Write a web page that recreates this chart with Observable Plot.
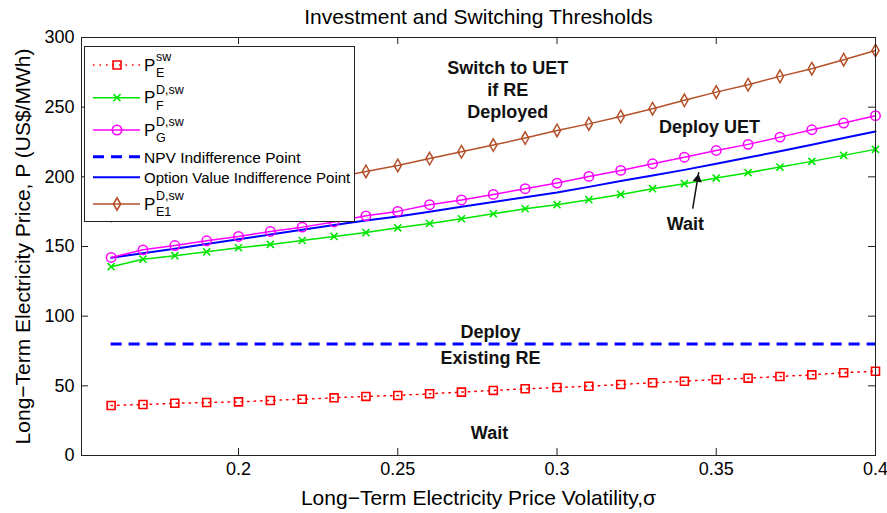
<!DOCTYPE html>
<html><head><meta charset="utf-8">
<script src="https://cdn.jsdelivr.net/npm/d3@7"></script>
<script src="https://cdn.jsdelivr.net/npm/@observablehq/plot@0.6"></script>
<style>
body{margin:0;background:#fff;}
#wrap{position:relative;width:887px;height:513px;font-family:"Liberation Sans",Arial,Helvetica,sans-serif;}
#legend{position:absolute;left:84px;top:46px;}
</style></head><body><div id="wrap"></div>
<script>
// ---- data ----
const sigma = [0.16,0.17,0.18,0.19,0.20,0.21,0.22,0.23,0.24,0.25,0.26,0.27,0.28,0.29,0.30,0.31,0.32,0.33,0.34,0.35,0.36,0.37,0.38,0.39,0.40];
const pE   = [35.9,36.6,37.5,38.0,38.5,39.5,40.4,41.4,42.4,43.1,44.3,45.5,46.7,47.9,48.8,49.7,51.0,52.2,53.3,54.6,55.5,56.7,57.9,59.4,60.5];
const pF   = [135.5,140.9,143.4,146.2,149.1,151.5,154.3,157.2,160.0,163.4,166.5,169.9,173.5,177.1,180.0,183.6,187.4,191.5,195.1,199.1,203.0,207.0,211.1,215.4,219.7];
const pG   = [142.1,147.6,150.7,154.1,157.2,160.8,163.9,167.6,172.0,175.2,180.0,183.4,187.4,191.5,195.5,200.3,204.6,209.4,214.1,218.9,223.3,228.5,233.8,238.6,243.9];
const pOpt = [142.0,145.2,148.4,151.8,155.2,158.6,162.0,165.4,168.6,171.6,175.0,178.6,182.0,185.4,188.8,192.8,197.0,201.0,205.0,209.4,213.8,218.4,223.0,227.8,232.6];
const pE1  = [172.5,176.0,179.6,183.3,187.1,191.0,195.1,199.4,203.9,208.2,213.1,218.0,222.8,227.8,233.3,238.0,243.3,248.9,254.9,260.8,266.1,272.1,277.6,284.1,290.7];
const npvLevel = 80;

const xTicks = [0.2,0.25,0.3,0.35,0.4];
const yTicks = [0,50,100,150,200,250,300];
const xDomain = [0.1507,0.4];
const yDomain = [0,300];

const titleText = "Investment and Switching Thresholds";
const xLabel = "Long\u2212Term Electricity Price Volatility,\u03c3";
const yLabel = "Long\u2212Term Electricity Price, P (US$/MWh)";

const regionText = ["Switch to UET\nif RE\nDeployed","Deploy UET","Wait","Deploy","Existing RE","Wait"];
const regionS    = [0.2845,0.3479,0.3403,0.2791,0.2791,0.2788];
const regionP    = [263,236.1,166.5,89.0,70.3,16.5];
const arrowFrom = [0.3426,177.1];
const arrowTo   = [0.3445,203.3];

// ---- colours ----
const cRed="#ff0000", cGreen="#00e600", cMag="#ff00ff", cBlue="#0000ff", cBrown="#b4502a";

const rows = sigma.map((s,i)=>({s, pE:pE[i], pF:pF[i], pG:pG[i], pOpt:pOpt[i], pE1:pE1[i]}));
const regions = regionText.map((t,i)=>({t, s:regionS[i], p:regionP[i]}));

const W=887,H=513,mL=81,mR=12,mT=37,mB=58;
const plotW=W-mL-mR, plotH=H-mT-mB, tk=7;

const chart = Plot.plot({
  width:W, height:H, marginLeft:mL, marginRight:mR, marginTop:mT, marginBottom:mB,
  style:{fontFamily:'"Liberation Sans",Arial,Helvetica,sans-serif', fontSize:"18px", background:"white", color:"black", overflow:"visible"},
  x:{domain:xDomain},
  y:{domain:yDomain},
  marks:[
    Plot.axisX({ticks:xTicks, tickSize:0, tickPadding:7, tickFormat:d=>String(d), label:null, fontSize:18}),
    Plot.axisY({ticks:yTicks, tickSize:0, tickPadding:7, tickFormat:d=>String(d), label:null, fontSize:18}),
    // inward ticks
    Plot.tickX(xTicks,{x:d=>d, insetTop:plotH-tk, stroke:"#222"}),
    Plot.tickX(xTicks,{x:d=>d, insetBottom:plotH-tk, stroke:"#222"}),
    Plot.tickY(yTicks,{y:d=>d, insetRight:plotW-tk, stroke:"#222"}),
    Plot.tickY(yTicks,{y:d=>d, insetLeft:plotW-tk, stroke:"#222"}),
    // series
    Plot.ruleY([npvLevel],{x1:sigma[0], x2:sigma[sigma.length-1], stroke:cBlue, strokeWidth:3, strokeDasharray:"11,7"}),
    Plot.line(rows,{x:"s",y:"pE",stroke:cRed,strokeWidth:1.5,strokeDasharray:"1.5,5"}),
    Plot.dot(rows,{x:"s",y:"pE",symbol:"square",r:4.5,stroke:cRed,strokeWidth:1.6,fill:"none"}),
    Plot.line(rows,{x:"s",y:"pF",stroke:cGreen,strokeWidth:1.5}),
    Plot.dot(rows,{x:"s",y:"pF",symbol:"times",r:3.3,stroke:cGreen,strokeWidth:1.6}),
    Plot.line(rows,{x:"s",y:"pOpt",stroke:cBlue,strokeWidth:2}),
    Plot.line(rows,{x:"s",y:"pG",stroke:cMag,strokeWidth:1.5}),
    Plot.dot(rows,{x:"s",y:"pG",symbol:"circle",r:4.7,stroke:cMag,strokeWidth:1.5,fill:"none"}),
    Plot.line(rows,{x:"s",y:"pE1",stroke:cBrown,strokeWidth:1.5}),
    Plot.dot(rows,{x:"s",y:"pE1",symbol:"diamond",r:3.8,stroke:cBrown,strokeWidth:1.5,fill:"none"}),
    Plot.frame({stroke:"#222"}),
    // annotations
    Plot.text(regions,{x:"s",y:"p",text:"t",fontWeight:"bold",fontSize:18,lineHeight:1.2,lineAnchor:"middle",fill:"#111"}),
    Plot.link([0],{x1:()=>arrowFrom[0],y1:()=>arrowFrom[1],x2:()=>arrowTo[0],y2:()=>arrowTo[1],stroke:"#111",strokeWidth:1.5}),
    Plot.dot([0],{x:()=>arrowTo[0],y:()=>arrowTo[1],symbol:"triangle2",r:4.5,fill:"#111",stroke:"none",rotate:9.3,dx:-1.1,dy:6.9}),
    // title and axis labels
    Plot.text([titleText],{text:d=>d,frameAnchor:"top",textAnchor:"middle",lineAnchor:"middle",dy:-20,fontSize:21}),
    Plot.text([xLabel],{text:d=>d,frameAnchor:"bottom",textAnchor:"middle",lineAnchor:"middle",dy:43,fontSize:21}),
    Plot.text([yLabel],{text:d=>d,frameAnchor:"left",textAnchor:"middle",lineAnchor:"middle",rotate:-90,dx:-58,fontSize:21})
  ]
});
const wrap=document.getElementById("wrap");
wrap.appendChild(chart);

// ---- legend ----
const legendItems = [
  {base:"P", sup:"sw",   sub:"E",  color:cRed,   dash:"1.5,5", width:1.5, symbol:d3.symbolSquare,  r:4.5, cy:19},
  {base:"P", sup:"D,sw", sub:"F",  color:cGreen, dash:null,    width:1.5, symbol:d3.symbolTimes,   r:3.3, cy:51.7},
  {base:"P", sup:"D,sw", sub:"G",  color:cMag,   dash:null,    width:1.5, symbol:d3.symbolCircle,  r:4.7, cy:84},
  {text:"NPV Indifference Point",  size:15.5, color:cBlue, dash:"11,7", width:3, symbol:null, cy:110.7},
  {text:"Option Value Indifference Point", size:15, color:cBlue, dash:null, width:2, symbol:null, cy:131.3},
  {base:"P", sup:"D,sw", sub:"E1", color:cBrown, dash:null,    width:1.5, symbol:d3.symbolDiamond, r:3.8, cy:158}
];
const LW=271, LH=176;
const lsvg=d3.create("svg").attr("id","legend").attr("width",LW).attr("height",LH)
  .style("font-family",'"Liberation Sans",Arial,Helvetica,sans-serif');
lsvg.append("rect").attr("x",0.5).attr("y",0.5).attr("width",LW-1).attr("height",LH-1)
  .attr("fill","white").attr("stroke","#222");
legendItems.forEach(it=>{
  const g=lsvg.append("g");
  g.append("line").attr("x1",9).attr("x2",56).attr("y1",it.cy).attr("y2",it.cy)
    .attr("stroke",it.color).attr("stroke-width",it.width).attr("stroke-dasharray",it.dash);
  if(it.symbol){
    g.append("path").attr("d",d3.symbol(it.symbol,Math.PI*it.r*it.r)())
      .attr("transform",`translate(33,${it.cy})`).attr("fill","none")
      .attr("stroke",it.color).attr("stroke-width",1.6);
  }
  if(it.text){
    g.append("text").attr("x",60).attr("y",it.cy+6).attr("font-size",it.size).text(it.text);
  } else {
    g.append("text").attr("x",60).attr("y",it.cy+5.5).attr("font-size",17).text(it.base);
    g.append("text").attr("x",72).attr("y",it.cy-4).attr("font-size",12.5).text(it.sup);
    g.append("text").attr("x",72).attr("y",it.cy+12).attr("font-size",12.5).text(it.sub);
  }
});
wrap.appendChild(lsvg.node());
</script>
</body></html>
